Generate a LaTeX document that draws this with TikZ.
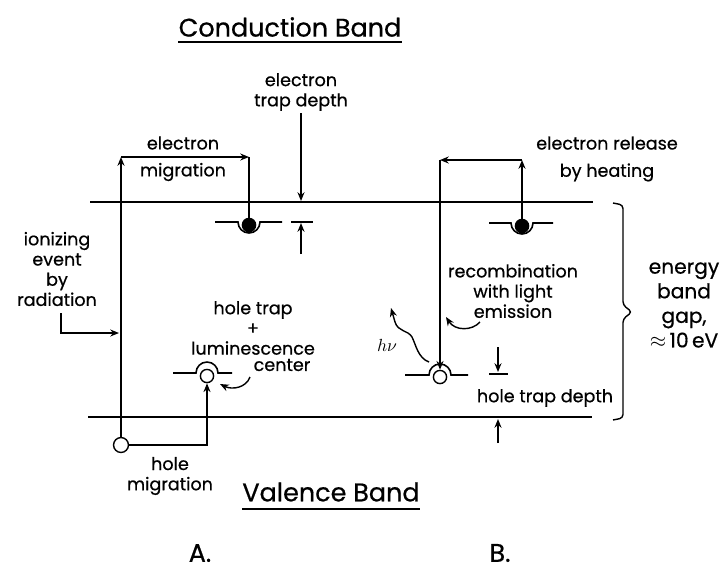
\documentclass[tikz,border=0pt]{standalone}
\usepackage{fontspec}
\setmainfont{Poppins}
\newfontfamily\diagfont{Poppins}[FakeBold=0.6]
\usepackage{tikz}
\usetikzlibrary{arrows.meta,positioning,calc}
\tikzset{
    % band edges and trap levels
    bandline/.style={line width=1.3pt},
    levelline/.style={line width=0.9pt},
    % transitions between levels
    moveedge/.style={line width=0.8pt, -{Stealth[length=5pt,width=4pt]}},
    plainedge/.style={line width=0.8pt},
    % traps: filled = trapped electron, open = trapped hole
    etrap/.style={circle, draw, fill=black, line width=0.8pt,
        minimum size=7.5pt, inner sep=0pt},
    htrap/.style={circle, draw, fill=white, line width=0.8pt,
        minimum size=7.5pt, inner sep=0pt},
    % text
    lbl/.style={font=\diagfont\fontsize{10}{11.5}\selectfont, align=center, inner sep=1pt},
    biglbl/.style={font=\diagfont\fontsize{11.5}{14}\selectfont, align=center, inner sep=1pt},
    title/.style={font=\diagfont\fontsize{14.5}{17}\selectfont, inner sep=0pt},
}
\begin{document}
\begin{tikzpicture}[x=0.02cm,y=-0.02cm]
  \useasboundingbox (0,0) rectangle (724,569);
  % band edges
  \coordinate (cbL) at (90,202);  \coordinate (cbR) at (593,202);
  \coordinate (vbL) at (88,417);  \coordinate (vbR) at (592,417);
  \draw[bandline] (cbL) -- (cbR);
  \draw[bandline] (vbL) -- (vbR);
  % titles
  \node[title] (cb) at (290,27) {Conduction Band};
  \node[title] (vb) at (331,492) {Valence Band};
  \coordinate (cbul) at (0,42); \coordinate (vbul) at (0,509);
  \draw[bandline] (cb.west |- cbul) -- (cb.east |- cbul);
  \draw[bandline] (vb.west |- vbul) -- (vb.east |- vbul);
  \node[title] (pa) at (200,553) {A.};
  \node[title] (pb) at (500,553) {B.};

  % --- A: trapping ---
  \draw[levelline] (215,222) -- (238,222) arc[start angle=180,end angle=0,radius=11] -- (282,222);
  \node[etrap] (eA) at (249,225) {};
  \draw[levelline] (173,373) -- (196,373) arc[start angle=180,end angle=360,radius=11] -- (232,373);
  \node[htrap] (hTA) at (207,376) {};
  \node[htrap, minimum size=8.5pt] (hA) at (121,445) {};
  \coordinate (cA1) at (121,157);
  \coordinate (cA2) at (249,157);
  \draw[moveedge] (hA) -- (cA1);
  \draw[moveedge] (cA1) -- (cA2);
  \draw[plainedge] (cA2) -- (eA);
  \draw[moveedge] (hA) -| (hTA);
  \node[lbl] (emA) at (183,143) {electron};
  \node[lbl] (emB) at (183,172) {migration};
  \node[lbl] (ion) at (57,269) {ionizing\\event\\by\\radiation};
  \coordinate (ionS) at (61,313);
  \coordinate (ionE) at (119,333);
  \draw[moveedge] (ionS) |- (ionE);
  \node[lbl] (hm) at (170,476) {hole\\migration};
  \node[lbl] (ht) at (253,328) {hole trap\\+\\luminescence};
  \node[lbl] (cen) at (282,365) {center};
  \coordinate (cpS) at (250,377);
  \coordinate (cpE) at (220,384);
  \draw[moveedge] (cpS) .. controls (246,388) and (232,390) .. (cpE);
  % electron trap depth
  \node[lbl] (etd) at (301,92) {electron\\trap depth};
  \coordinate (etdC) at (301,201);
  \draw[moveedge] (etd) -- (etdC);
  \coordinate (tdL) at (291,222); \coordinate (tdR) at (313,222);
  \draw[levelline] (tdL) -- (tdR);
  \coordinate (etdB) at (301,254); \coordinate (etdT) at (301,223);
  \draw[moveedge] (etdB) -- (etdT);

  % --- B: release and recombination ---
  \draw[levelline] (489,223) -- (511,223) arc[start angle=180,end angle=0,radius=11] -- (553,223);
  \node[etrap] (eB) at (522,226) {};
  \draw[levelline] (405,375) -- (429,375) arc[start angle=180,end angle=360,radius=11] -- (468,375);
  \node[htrap] (hB) at (440,377) {};
  \coordinate (cB1) at (522,160);
  \coordinate (cB2) at (440,160);
  \draw[moveedge] (eB) -- (cB1);
  \draw[moveedge] (cB1) -- (cB2);
  \draw[moveedge] (cB2) -- (hB);
  \node[lbl] (rel) at (607,159) {electron release\\[4pt]by heating};
  \node[lbl] (rec) at (513,291) {recombination\\with light\\emission};
  \coordinate (rpS) at (480,322);
  \coordinate (rpE) at (446,317);
  \draw[moveedge] (rpS) .. controls (472,331) and (455,331) .. (rpE);
  % emitted photon
  \coordinate (phS) at (429,362);
  \coordinate (phE) at (391,308);
  \draw[moveedge] (phS) .. controls (418,358) and (416,345) .. (412,337)
      .. controls (408,330) and (398,332) .. (395,322) -- (phE);
  \node[lbl] (hv) at (387,345) {$h\nu$};
  % hole trap depth
  \coordinate (htdA) at (498,347); \coordinate (htdT) at (498,372);
  \draw[moveedge] (htdA) -- (htdT);
  \coordinate (hdL) at (489,374); \coordinate (hdR) at (508,374);
  \draw[levelline] (hdL) -- (hdR);
  \node[lbl] (htd) at (545,398) {hole trap depth};
  \coordinate (htdB) at (498,443); \coordinate (htdV) at (498,419);
  \draw[moveedge] (htdB) -- (htdV);

  % band gap brace
  \coordinate (brT) at (613,203); \coordinate (brB) at (613,420);
  \coordinate (brTip) at (632,312);
  \draw[plainedge, rounded corners=2pt] (brT) -- (623,205) -- (623,305) -- (brTip)
      -- (623,319) -- (623,418) -- (brB);
  \node[biglbl] (gap) at (684,305) {energy\\band\\gap,\\$\approx$\,10\,eV};
\end{tikzpicture}
\end{document}
